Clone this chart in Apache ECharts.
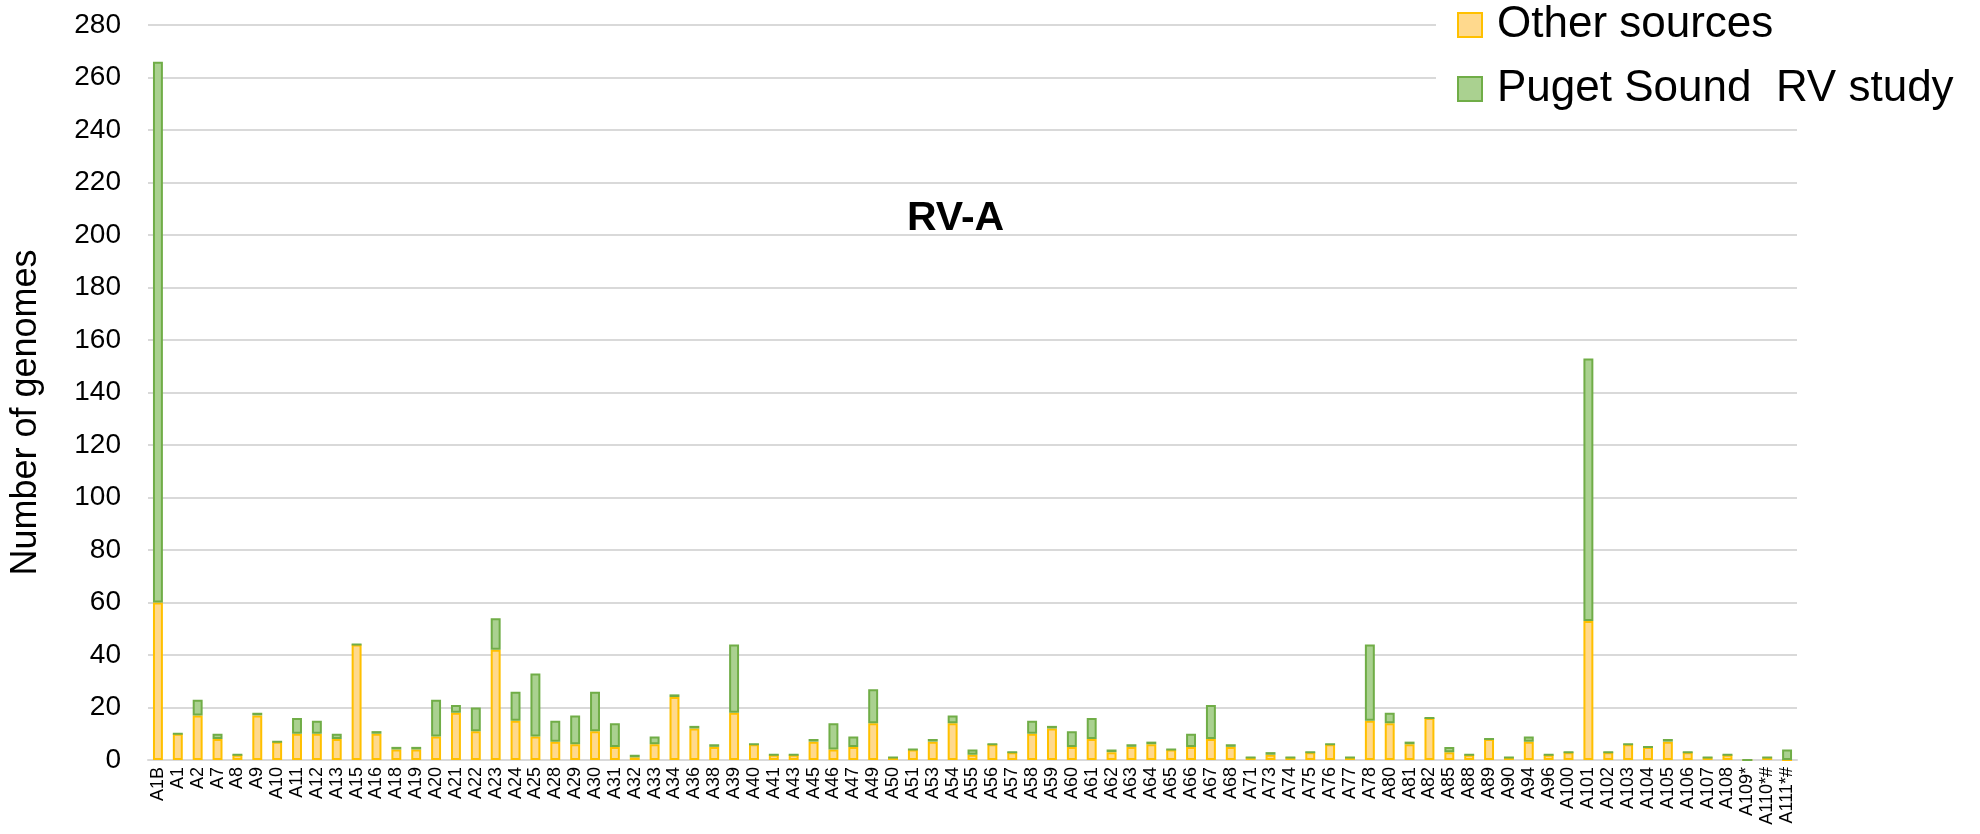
<!DOCTYPE html>
<html>
<head>
<meta charset="utf-8">
<style>
  html, body { margin: 0; padding: 0; background: #fff; }
  #rvA { width: 1980px; height: 834px; }
</style>
<script src="https://cdn.jsdelivr.net/npm/echarts@6/dist/echarts.min.js"></script>
</head>
<body>
<div id="rvA"></div>
<script>
var types = ['A1B', 'A1', 'A2', 'A7', 'A8', 'A9', 'A10', 'A11', 'A12', 'A13', 'A15', 'A16', 'A18', 'A19', 'A20',
    'A21', 'A22', 'A23', 'A24', 'A25', 'A28', 'A29', 'A30', 'A31', 'A32', 'A33', 'A34', 'A36', 'A38', 'A39',
    'A40', 'A41', 'A43', 'A45', 'A46', 'A47', 'A49', 'A50', 'A51', 'A53', 'A54', 'A55', 'A56', 'A57', 'A58',
    'A59', 'A60', 'A61', 'A62', 'A63', 'A64', 'A65', 'A66', 'A67', 'A68', 'A71', 'A73', 'A74', 'A75', 'A76',
    'A77', 'A78', 'A80', 'A81', 'A82', 'A85', 'A88', 'A89', 'A90', 'A94', 'A96', 'A100', 'A101', 'A102', 'A103',
    'A104', 'A105', 'A106', 'A107', 'A108', 'A109*', 'A110*#', 'A111*#'];

var otherSources = [60, 10, 17, 8, 2, 17, 7, 10, 10, 8, 44, 10, 4, 4, 9,
    18, 11, 42, 15, 9, 7, 6, 11, 5, 1, 6, 24, 12, 5, 18,
    6, 2, 2, 7, 4, 5, 14, 1, 4, 7, 14, 2, 6, 3, 10,
    12, 5, 8, 3, 5, 6, 4, 5, 8, 5, 1, 2, 1, 3, 6,
    1, 15, 14, 6, 16, 3, 2, 8, 1, 7, 2, 3, 53, 3, 6,
    5, 7, 3, 1, 2, 0, 1, 0];

var pugetSound = [206, 0, 6, 2, 0, 1, 0, 6, 5, 2, 0, 1, 1, 1, 14,
    3, 9, 12, 11, 24, 8, 11, 15, 9, 1, 3, 1, 1, 1, 26,
    0, 0, 0, 1, 10, 4, 13, 0, 0, 1, 3, 2, 0, 0, 5,
    1, 6, 8, 1, 1, 1, 0, 5, 13, 1, 0, 1, 0, 0, 0,
    0, 29, 4, 1, 0, 2, 0, 0, 0, 2, 0, 0, 100, 0, 0,
    0, 1, 0, 0, 0, 0, 0, 4];

var yTicks = { min: 0, max: 280, step: 20 };

var font = 'Liberation Sans, Arial, sans-serif';

var myChart = echarts.init(document.getElementById('rvA'));

var option = {
    animation: false,
    textStyle: {
        fontFamily: font
    },
    title: {
        text: 'RV-A',
        left: 902,
        top: 193,
        textStyle: {
            fontFamily: font,
            fontSize: 41,
            fontWeight: 'bold',
            color: '#000'
        }
    },
    legend: {
        orient: 'vertical',
        left: 1436,
        top: 0,
        padding: [3, 14, 6, 21],
        backgroundColor: '#fff',
        itemWidth: 24,
        itemHeight: 24,
        itemGap: 20,
        icon: 'rect',
        textStyle: {
            fontFamily: font,
            fontSize: 44,
            lineHeight: 44,
            color: '#000',
            padding: [0, 0, 0, 10]
        },
        data: ['Other sources', 'Puget Sound  RV study']
    },
    grid: {
        left: 143,
        right: 183,
        top: 25,
        bottom: 74,
        containLabel: false
    },
    xAxis: {
        type: 'category',
        data: types,
        axisLine: {
            lineStyle: {
                color: '#d9d9d9',
                width: 2
            }
        },
        axisTick: {
            show: false
        },
        axisLabel: {
            interval: 0,
            rotate: 90,
            margin: 7,
            fontSize: 18,
            color: '#000',
            fontFamily: font
        }
    },
    yAxis: {
        type: 'value',
        min: yTicks.min,
        max: yTicks.max,
        interval: yTicks.step,
        name: 'Number of genomes',
        nameLocation: 'middle',
        nameGap: 104,
        nameTextStyle: {
            fontFamily: font,
            fontSize: 36,
            color: '#000',
            padding: [0, 40, 0, 0]
        },
        axisLine: {
            show: false
        },
        axisTick: {
            show: false
        },
        splitLine: {
            lineStyle: {
                color: '#d9d9d9',
                width: 2
            }
        },
        axisLabel: {
            margin: 27,
            fontSize: 28,
            color: '#000',
            fontFamily: font
        }
    },
    series: [{
        name: 'Other sources',
        type: 'bar',
        stack: 'total',
        barWidth: '50%',
        data: otherSources,
        itemStyle: {
            color: '#ffd98d',
            borderColor: '#ffc000',
            borderWidth: 2
        }
    }, {
        name: 'Puget Sound  RV study',
        type: 'bar',
        stack: 'total',
        barWidth: '50%',
        data: pugetSound,
        itemStyle: {
            color: '#aad190',
            borderColor: '#70ad47',
            borderWidth: 2
        }
    }]
};

myChart.setOption(option);
</script>
</body>
</html>
